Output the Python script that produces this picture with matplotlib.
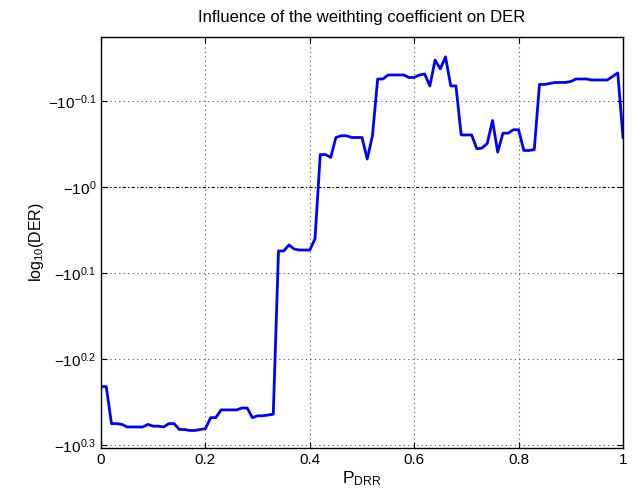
import numpy as np
import matplotlib
matplotlib.use('Agg')
import matplotlib.pyplot as plt
from matplotlib.ticker import FixedLocator, FixedFormatter, NullLocator

plt.rcParams['font.family'] = ['Liberation Sans', 'DejaVu Sans']
plt.rcParams['mathtext.fontset'] = 'custom'
plt.rcParams['mathtext.rm'] = 'Liberation Sans'
plt.rcParams['mathtext.it'] = 'Liberation Sans:italic'
plt.rcParams['mathtext.bf'] = 'Liberation Sans:bold'

# P_DRR, 0 .. 1 in steps of 0.01
p_drr = np.round(np.arange(0, 1.001, 0.01), 2)

# log10(DER)
log_der = [
    -1.706, -1.706, -1.884, -1.884, -1.888, -1.901, -1.901, -1.901, -1.901, -1.888,
    -1.897, -1.897, -1.901, -1.884, -1.884, -1.914, -1.914, -1.919, -1.919, -1.914,
    -1.910, -1.854, -1.854, -1.816, -1.816, -1.816, -1.816, -1.807, -1.807, -1.854,
    -1.845, -1.845, -1.841, -1.837, -1.186, -1.186, -1.167, -1.180, -1.183, -1.183,
    -1.183, -1.148, -0.916, -0.916, -0.923, -0.875, -0.871, -0.871, -0.875, -0.875,
    -0.875, -0.927, -0.871, -0.748, -0.748, -0.740, -0.740, -0.740, -0.740, -0.745,
    -0.745, -0.740, -0.738, -0.762, -0.711, -0.728, -0.705, -0.762, -0.762, -0.869,
    -0.869, -0.869, -0.902, -0.900, -0.889, -0.836, -0.910, -0.865, -0.865, -0.857,
    -0.857, -0.906, -0.906, -0.904, -0.759, -0.759, -0.757, -0.755, -0.755, -0.755,
    -0.753, -0.748, -0.748, -0.748, -0.750, -0.750, -0.750, -0.750, -0.743, -0.736,
    -0.875,
]

ytick_exp = [-0.1, 0, 0.1, 0.2, 0.3]
ytick_labels = ['$\\mathregular{-10^{-0.1}}$', '$\\mathregular{-10^{0}}$',
                '$\\mathregular{-10^{0.1}}$', '$\\mathregular{-10^{0.2}}$',
                '$\\mathregular{-10^{0.3}}$']
xticks = [0, 0.2, 0.4, 0.6, 0.8, 1]
xtick_labels = ['0', '0.2', '0.4', '0.6', '0.8', '1']

fig = plt.figure(figsize=(6.37, 4.95), dpi=100)
ax = fig.add_axes([0.1586, 0.0949, 0.8194, 0.8304])

# negative values on a log axis: plot magnitude, larger magnitude lower
mag = -np.array(log_der)
ax.plot(p_drr, mag, color='#0000ff', linewidth=2)
ax.set_yscale('log')
ax.set_ylim(10 ** 0.3035, 10 ** -0.175)
ax.set_xlim(0, 1)

ax.yaxis.set_major_locator(FixedLocator([10 ** e for e in ytick_exp]))
ax.yaxis.set_major_formatter(FixedFormatter(ytick_labels))
ax.yaxis.set_minor_locator(NullLocator())
ax.set_xticks(xticks)
ax.set_xticklabels(xtick_labels)

ax.tick_params(direction='in', top=True, right=True, labelsize=11, length=4)
ax.grid(True, linestyle=(0, (1, 3)), color='#555555', linewidth=0.8)
ax.axhline(1.0, linestyle=(0, (1, 2, 3, 2)), color='black', linewidth=0.8)
for s in ax.spines.values():
    s.set_linewidth(1.0)

ax.set_title('Influence of the weithting coefficient on DER', fontsize=12, pad=11)
ax.set_xlabel('$\\mathregular{P_{DRR}}$', fontsize=12.5, labelpad=2)
ax.set_ylabel('$\\mathregular{log_{10}(DER)}$', fontsize=11.5, labelpad=1)

plt.savefig('out.png', dpi=100)
